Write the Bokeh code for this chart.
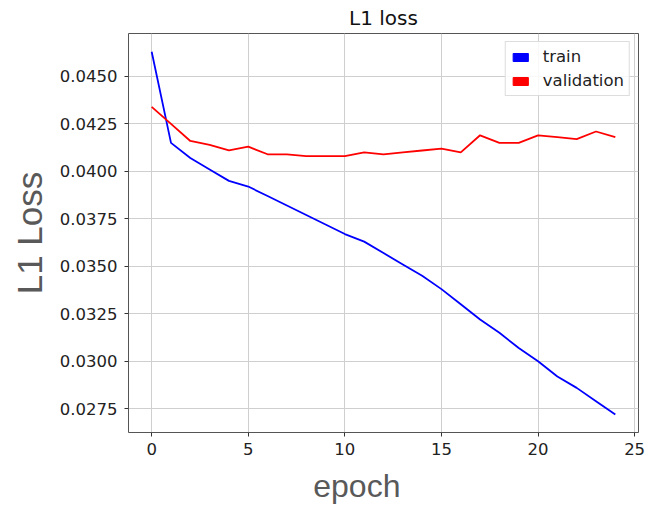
from bokeh.plotting import figure
from bokeh.models import Range1d, FixedTicker, PrintfTickFormatter, Legend, LegendItem
from bokeh.embed import file_html
from bokeh.resources import INLINE

epochs = list(range(25))
train = [0.0463, 0.0415, 0.0407, 0.0401, 0.0395, 0.0392, 0.0387, 0.0382, 0.0377, 0.0372,
         0.0367, 0.0363, 0.0357, 0.0351, 0.0345, 0.0338, 0.0330, 0.0322, 0.0315, 0.0307,
         0.0300, 0.0292, 0.0286, 0.0279, 0.0272]
validation = [0.0434, 0.0425, 0.0416, 0.0414, 0.0411, 0.0413, 0.0409, 0.0409, 0.0408, 0.0408,
              0.0408, 0.0410, 0.0409, 0.0410, 0.0411, 0.0412, 0.0410, 0.0419, 0.0415, 0.0415,
              0.0419, 0.0418, 0.0417, 0.0421, 0.0418]
x_ticks = [0, 5, 10, 15, 20, 25]
y_ticks = [0.0275, 0.0300, 0.0325, 0.0350, 0.0375, 0.0400, 0.0425, 0.0450]
series_names = ["train", "validation"]
series_colors = ["blue", "red"]

p = figure(width=645, height=506, output_backend="svg", toolbar_location=None,
           x_range=Range1d(-1.2, 25.2), y_range=Range1d(0.02625, 0.04726),
           min_border_left=128, min_border_right=7, min_border_top=33, min_border_bottom=74,
           title="L1 loss")
p.background_fill_color = "white"
p.border_fill_color = "white"
p.outline_line_color = "#555555"
p.outline_line_width = 1

p.title.text_font = "DejaVu Sans"
p.title.text_font_style = "normal"
p.title.text_font_size = "20px"
p.title.text_color = "#111111"
p.title.align = "center"
p.title.standoff = 7

p.xaxis.ticker = FixedTicker(ticks=x_ticks)
p.yaxis.ticker = FixedTicker(ticks=y_ticks)
p.yaxis.formatter = PrintfTickFormatter(format="%.4f")
for ax in (p.xaxis, p.yaxis):
    ax.axis_line_color = None
    ax.major_tick_line_color = "#333333"
    ax.major_tick_out = 4
    ax.major_tick_in = 0
    ax.minor_tick_line_color = None
    ax.major_label_text_font = "DejaVu Sans"
    ax.major_label_text_font_size = "16.5px"
    ax.major_label_text_color = "#222222"
    ax.axis_label_text_font = "Liberation Sans"
    ax.axis_label_text_font_style = "normal"
    ax.axis_label_text_color = "#595959"
p.xaxis.major_label_standoff = 6
p.yaxis.major_label_standoff = 7
p.yaxis.axis_label = "L1 Loss"
p.yaxis.axis_label_text_font_size = "35px"
p.yaxis.axis_label_standoff = 8
# trailing no-break spaces shift the centred label left, as in the reference
p.xaxis.axis_label = "epoch" + "\u00a0" * 6
p.xaxis.axis_label_text_font_size = "32px"
p.xaxis.axis_label_standoff = 10

p.grid.grid_line_color = "#cfcfcf"
p.grid.grid_line_width = 1

p.line(epochs, train, line_color=series_colors[0], line_width=1.8)
p.line(epochs, validation, line_color=series_colors[1], line_width=1.8)

nan = float("nan")
items = []
for name, col in zip(series_names, series_colors):
    r = p.quad(left=[nan], right=[nan], top=[nan], bottom=[nan], fill_color=col, line_color=col)
    items.append(LegendItem(label=name, renderers=[r]))

legend = Legend(items=items, location="top_right")
legend.margin = 8
legend.padding = 5
legend.spacing = 5
legend.glyph_width = 19
legend.glyph_height = 10
legend.label_standoff = 13
legend.label_height = 18
legend.label_text_font = "DejaVu Sans"
legend.label_text_font_size = "16.5px"
legend.label_text_color = "#222222"
legend.border_line_color = "#bbbbbb"
legend.border_line_width = 1
legend.background_fill_color = "white"
legend.background_fill_alpha = 0.85
p.add_layout(legend)

open("out.html", "w").write(file_html(p, INLINE))
